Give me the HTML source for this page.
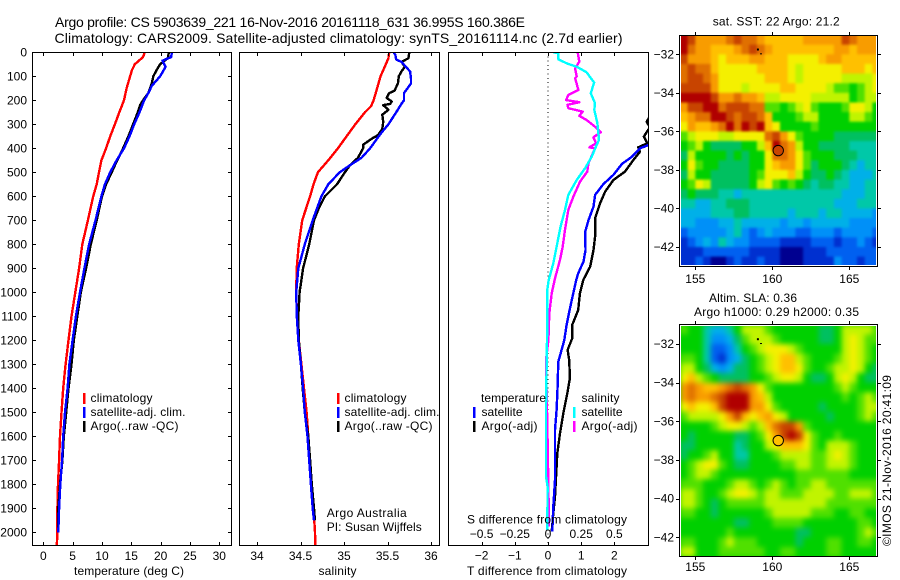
<!DOCTYPE html>
<html>
<head>
<meta charset="utf-8">
<title>Argo profile chart</title>
<style>
html,body{margin:0;padding:0;background:#fff;}
svg{display:block;}
text{font-family:"Liberation Sans",sans-serif;font-size:12px;fill:#000;}
.t14{font-size:14px;}
.frame{fill:none;stroke:#000;stroke-width:1;shape-rendering:crispEdges;}
.crisp{shape-rendering:crispEdges;}
</style>
</head>
<body>
<svg id="chart" xmlns="http://www.w3.org/2000/svg" width="900" height="580" viewBox="0 0 900 580">
  <defs>
    <clipPath id="clip-temp"><rect x="33" y="52" width="198" height="493"/></clipPath>
    <clipPath id="clip-sal"><rect x="240" y="52" width="199" height="493"/></clipPath>
    <clipPath id="clip-diff"><rect x="449" y="52" width="199" height="493"/></clipPath>
    <clipPath id="clip-sst"><rect x="681" y="36" width="195" height="229"/></clipPath>
    <clipPath id="clip-sla"><rect x="681" y="326" width="195" height="230"/></clipPath>
    <filter id="sst-blur" x="-5%" y="-5%" width="110%" height="110%" color-interpolation-filters="sRGB"><feGaussianBlur stdDeviation="1.3"/></filter>
    <filter id="sla-blur" x="-5%" y="-5%" width="110%" height="110%" color-interpolation-filters="sRGB"><feGaussianBlur stdDeviation="2.6"/></filter>
  </defs>
  <rect x="0" y="0" width="900" height="580" fill="#fff"/>

  <text class="t14" x="55" y="27" textLength="470">Argo profile: CS 5903639_221 16-Nov-2016 20161118_631 36.995S 160.386E</text>
  <text class="t14" x="54.5" y="43" textLength="568">Climatology: CARS2009. Satellite-adjusted climatology: synTS_20161114.nc (2.7d earlier)</text>

  <g id="temp-marks" clip-path="url(#clip-temp)"></g>
  <g id="sal-marks" clip-path="url(#clip-sal)"></g>
  <g id="diff-marks" clip-path="url(#clip-diff)"></g>
  <g id="ticks"></g>

  <rect class="frame" x="32.5" y="52.5" width="199" height="493"/>
  <rect class="frame" x="239.5" y="52.5" width="200" height="493"/>
  <rect class="frame" x="448.5" y="52.5" width="200" height="493"/>

  <text x="74" y="575" textLength="110">temperature (deg C)</text>
  <text x="318.5" y="575" textLength="38">salinity</text>
  <text x="467" y="575" textLength="160">T difference from climatology</text>
  <text x="467" y="523.5" textLength="160">S difference from climatology</text>

  <g>
    <rect class="crisp" x="83" y="393" width="2.5" height="11" fill="#f00"/>
    <rect class="crisp" x="83" y="407" width="2.5" height="11" fill="#00f"/>
    <rect class="crisp" x="83" y="421" width="2.5" height="11" fill="#000"/>
    <text x="90.5" y="402" textLength="62">climatology</text>
    <text x="90.5" y="416" textLength="95">satellite-adj. clim.</text>
    <text x="90.5" y="430" textLength="88">Argo(..raw -QC)</text>
  </g>
  <g>
    <rect class="crisp" x="337" y="393" width="2.5" height="11" fill="#f00"/>
    <rect class="crisp" x="337" y="407" width="2.5" height="11" fill="#00f"/>
    <rect class="crisp" x="337" y="421" width="2.5" height="11" fill="#000"/>
    <text x="344.5" y="402" textLength="62">climatology</text>
    <text x="344.5" y="416" textLength="95">satellite-adj. clim.</text>
    <text x="344.5" y="430" textLength="88">Argo(..raw -QC)</text>
    <text x="326.7" y="517" textLength="80">Argo Australia</text>
    <text x="326.7" y="531" textLength="95">PI: Susan Wijffels</text>
  </g>
  <g>
    <text x="481" y="402" textLength="65">temperature</text>
    <text x="481.5" y="416" textLength="41">satellite</text>
    <text x="481.5" y="430" textLength="56">Argo(-adj)</text>
    <text x="581.5" y="402" textLength="38">salinity</text>
    <text x="581.5" y="416" textLength="41">satellite</text>
    <text x="581.5" y="430" textLength="56">Argo(-adj)</text>
    <rect class="crisp" x="473" y="407" width="2.5" height="11" fill="#00f"/>
    <rect class="crisp" x="473" y="421" width="2.5" height="11" fill="#000"/>
    <rect class="crisp" x="573" y="407" width="2.5" height="11" fill="#0ff"/>
    <rect class="crisp" x="573" y="421" width="2.5" height="11" fill="#f0f"/>
  </g>

  <text x="712.7" y="25.5" textLength="127">sat. SST: 22 Argo: 21.2</text>
  <text x="709" y="302" textLength="88">Altim. SLA: 0.36</text>
  <text x="694" y="316" textLength="165">Argo h1000: 0.29 h2000: 0.35</text>
  <text transform="translate(891,546) rotate(-90)" x="0" y="0" textLength="171">©IMOS 21-Nov-2016 20:41:09</text>

  <g clip-path="url(#clip-sst)">
    <g id="sst-map-base"></g>
    <g id="sst-map" filter="url(#sst-blur)"></g>
  </g>
  <g clip-path="url(#clip-sla)">
    <rect x="681" y="326" width="195" height="230" fill="#00d000"/>
    <g id="sla-map" filter="url(#sla-blur)"></g>
  </g>
  <g id="map-overlay"></g>
  <rect class="frame" x="679.5" y="35.5" width="198" height="231"/>
  <rect class="frame" x="679.5" y="324.5" width="198" height="232"/>
</svg>

<script>
// Temperature profiles (deg C) against pressure (dbar)
const tempClimDepth = [0,20,50,75,100,150,200,250,300,350,400,450,500,550,600,700,800,900,1000,1100,1200,1300,1400,1500,1600,1700,1800,1900,2000,2056];
const tempClimValue = [17.3,17.0,15.6,15.1,14.8,14.2,13.75,12.95,12.2,11.4,10.7,9.9,9.5,9.1,8.5,7.6,6.65,6.1,5.45,4.8,4.3,3.8,3.4,3.1,2.85,2.7,2.5,2.4,2.4,2.3];
const tempSatDepth = [0,20,35,60,75,100,140,170,200,250,300,350,400,450,500,550,600,700,800,900,1000,1100,1200,1300,1400,1500,1600,1700,1800,1900,2000];
const tempSatValue = [21.9,21.8,20.3,20.85,20.5,19.9,18.5,17.9,17.2,16.4,15.5,14.7,13.75,12.5,11.4,10.5,9.9,8.9,7.8,7.0,6.25,5.55,5.0,4.45,4.15,3.7,3.4,3.2,2.9,2.7,2.55];
const tempArgoDepth = [0,25,50,75,100,130,170,200,220,250,300,350,400,450,500,550,600,700,800,900,1000,1100,1200,1300,1400,1500,1600,1700,1800,1900,2000];
const tempArgoValue = [21.4,21.2,19.9,19.3,18.75,18.5,17.9,17.0,16.5,16.1,15.3,14.5,13.6,12.6,11.65,10.7,10.0,9.1,8.1,7.3,6.4,5.8,5.2,4.8,4.3,3.9,3.5,3.25,2.85,2.55,2.5];

// Salinity profiles against pressure (dbar)
const salClimDepth = [0,25,50,75,100,150,200,225,250,300,350,400,450,500,550,600,700,800,900,1000,1100,1200,1300,1400,1500,1600,1700,1800,1900,2000,2056];
const salClimValue = [35.52,35.51,35.48,35.45,35.42,35.38,35.34,35.31,35.24,35.13,35.03,34.93,34.82,34.70,34.65,34.61,34.52,34.48,34.456,34.45,34.46,34.48,34.51,34.54,34.57,34.59,34.61,34.63,34.65,34.667,34.67];
const salSatDepth = [0,10,30,40,60,80,110,130,150,170,200,215,250,300,340,400,440,470,500,550,600,700,800,900,1000,1100,1200,1300,1400,1500,1600,1700,1800,1900,1950];
const salSatValue = [35.57,35.59,35.6,35.66,35.71,35.76,35.77,35.77,35.73,35.69,35.69,35.66,35.6,35.51,35.42,35.3,35.2,35.07,34.95,34.82,34.74,34.64,34.55,34.475,34.45,34.457,34.475,34.505,34.53,34.55,34.58,34.6,34.62,34.64,34.655];
const salArgoDepth = [0,25,40,60,80,100,130,160,170,190,205,215,220,240,260,290,320,345,360,385,400,440,470,500,550,600,650,700,800,900,1000,1100,1200,1300,1400,1500,1600,1700,1800,1900,1950];
const salArgoValue = [35.75,35.74,35.66,35.7,35.66,35.63,35.62,35.58,35.52,35.49,35.55,35.53,35.45,35.51,35.44,35.45,35.44,35.39,35.32,35.22,35.22,35.16,35.07,35.01,34.92,34.78,34.71,34.655,34.6,34.53,34.49,34.475,34.48,34.505,34.525,34.55,34.59,34.61,34.63,34.655,34.665];

// Temperature differences from climatology
const dTempSatDepth = [0,300,350,386,400,435,465,511,549,594,643,699,747,824,872,921,949,1011,1074,1136,1199,1240,1289,1393,1490,1574,1782,1893,1997];
const dTempSatValue = [4.6,3.4,3.2,3.04,2.77,2.53,2.23,1.97,1.67,1.42,1.37,1.22,1.12,1.13,1.07,0.91,0.85,0.75,0.65,0.56,0.49,0.41,0.31,0.29,0.26,0.21,0.21,0.16,0.13];
const dTempArgoDepth = [0,200,250,268,289,312,351,379,396,414,449,497,532,581,629,692,768,824,893,949,1004,1074,1136,1192,1240,1282,1358,1421,1504,1588,1671,1726,1851,1921,1997];
const dTempArgoValue = [4.1,3.5,3.2,3.07,2.97,3.07,2.89,2.99,2.72,2.77,2.57,2.32,1.97,1.72,1.57,1.42,1.42,1.37,1.27,1.06,0.96,0.91,0.73,0.73,0.59,0.64,0.66,0.58,0.46,0.36,0.28,0.26,0.21,0.16,0.11];

// Salinity differences from climatology
const dSalSatDepth = [0,4,29,46,60,83,126,171,212,240,296,365,386,435,483,532,594,657,726,810,879,949,990,1115,1282,1476,1768,1810,1990];
const dSalSatValue = [0.04,0.078,0.078,0.14,0.216,0.29,0.347,0.322,0.354,0.349,0.372,0.384,0.367,0.329,0.279,0.216,0.153,0.128,0.095,0.065,0.04,0.005,-0.005,-0.005,-0.01,-0.015,-0.015,-0.003,-0.005];
const dSalArgoDepth = [0,39,67,101,108,157,178,199,208,219,233,247,265,282,310,333,354,379,396,400,463,497,539,601,657,740,810,865,942,1004,1088,1199,1282,1435,1546,1893,1976];
const dSalArgoValue = [0.224,0.236,0.204,0.216,0.204,0.229,0.153,0.136,0.236,0.146,0.153,0.261,0.236,0.291,0.354,0.397,0.342,0.362,0.312,0.354,0.304,0.296,0.241,0.191,0.153,0.128,0.111,0.09,0.053,0.028,0.01,0.003,-0.015,-0.01,-0.005,0.005,0.005];

// Tick values and labels
const depthTicks = [0,100,200,300,400,500,600,700,800,900,1000,1100,1200,1300,1400,1500,1600,1700,1800,1900,2000];
const tempTicks = [0,5,10,15,20,25,30];
const salTicks = [34,34.5,35,35.5,36];
const salTickLabels = ['34','34.5','35','35.5','36'];
const dTempTicks = [-2,-1,0,1,2];
const dTempTickLabels = ['\u22122','\u22121','0','1','2'];
const dSalTicks = [-0.5,-0.25,0,0.25,0.5];
const dSalTickLabels = ['\u22120.5','\u22120.25','0','0.25','0.5'];
const lonTicks = [155,160,165];
const latTicks = [-32,-34,-36,-38,-40,-42];
const argoLon = 160.386;
const argoLat = -36.995;

// Map colour levels
const mapLonStart = 154;
const mapLatStart = -31;
const mapStep = 0.5;
const sstArgoLevel = 13.6;
const slaArgoLevel = 11;
const colorRamp = ['#000090','#0030d0','#0060f0','#0090f8','#00b0e8','#00c8a8','#00c060','#00d000','#50e000','#c0f400','#f4f000','#ffc000','#f89c00','#e07000','#c84400','#b00000'];
const sstLevels = [
[15,14,12,12,12,12,13,14,13,13,12,11,11,11,11,11,12,12,12,12,12,14,13,12,12,12],
[15,13,12,12,11,11,11,12,13,14,13,12,11,11,11,11,11,11,11,11,12,12,11,12,12,12],
[14,12,12,12,11,10,11,11,11,12,12,11,11,11,10,10,10,10,11,12,12,11,11,11,11,11],
[13,14,13,13,11,10,10,10,10,10,11,11,11,11,10,9,10,10,10,10,10,11,11,11,10,11],
[13,14,14,13,12,10,10,10,10,10,10,11,11,11,10,9,10,10,10,10,10,9,9,9,9,10],
[14,14,14,14,12,10,10,10,9,10,10,10,10,11,11,10,10,10,10,9,8,8,7,8,9,10],
[15,15,15,15,14,12,12,13,12,12,11,9,9,10,10,10,10,9,9,9,9,9,7,8,9,9],
[12,14,14,15,15,13,14,14,14,13,13,8,8,7,8,9,10,8,7,7,7,8,10,10,9,7],
[11,12,13,13,15,15,14,13,14,14,13,11,7,7,7,8,9,9,7,7,7,7,9,9,8,7],
[10,12,11,11,12,13,15,13,15,14,15,11,10,7,7,7,7,8,7,7,7,7,7,7,7,7],
[8,9,10,10,10,9,9,10,10,10,10,13,14,12,10,8,7,7,7,7,6,6,6,6,6,6],
[7,8,9,7,6,6,6,6,7,7,9,11,15,13,12,9,7,7,6,6,6,6,5,5,5,5],
[6,9,7,7,7,7,6,7,6,7,7,10,13,13,12,10,8,7,7,7,6,6,6,5,5,5],
[7,10,8,7,7,6,6,6,6,7,7,10,11,12,12,10,8,6,7,7,7,6,5,4,5,5],
[6,9,7,7,6,6,6,6,6,7,8,10,10,10,11,9,7,6,6,7,6,5,4,4,4,5],
[7,8,10,9,6,6,6,6,6,7,9,10,8,7,8,7,6,5,6,6,5,5,4,4,5,5],
[6,7,6,6,6,5,5,4,5,5,5,5,5,5,5,5,5,5,5,5,5,4,4,4,5,5],
[5,5,4,4,5,5,6,6,6,5,5,5,5,5,5,5,5,5,5,5,4,4,4,5,5,5],
[4,4,4,4,5,5,5,6,6,5,5,5,5,5,4,5,5,5,4,5,5,4,4,4,4,3],
[4,4,3,3,3,4,4,5,4,4,4,4,4,3,4,4,3,4,4,4,4,4,3,3,3,3],
[2,3,3,3,3,3,4,5,3,2,3,4,3,3,3,2,2,3,3,3,2,3,3,3,3,2],
[1,2,3,4,3,5,4,3,3,2,2,2,2,1,1,1,1,2,2,2,1,2,2,3,2,1],
[1,1,1,2,2,2,2,2,2,1,1,1,1,0,0,0,1,1,1,2,2,2,2,2,2,2],
[1,1,2,1,0,0,1,2,1,1,2,1,1,0,0,0,1,1,1,1,3,2,2,1,2,2]
];
const slaLevels = [
[8,7,7,5,4,4,5,7,9,9,9,8,7,7,7,7,7,7,6,6,7,9,9,9,9,8],
[7,7,7,5,3,3,4,6,8,9,9,9,8,7,7,7,7,7,6,6,7,9,10,9,8,8],
[7,7,7,5,2,2,3,5,7,8,9,10,10,10,9,8,7,7,7,7,7,9,10,9,8,7],
[8,8,7,5,2,1,3,4,6,7,8,9,10,11,11,9,8,7,7,7,8,9,10,9,8,7],
[9,9,7,6,4,3,4,6,6,7,8,9,10,11,11,10,8,7,7,8,9,9,10,9,7,6],
[10,11,9,8,7,6,6,6,6,7,7,8,9,10,10,9,7,6,6,7,9,10,9,7,6,6],
[12,13,12,11,11,12,13,14,13,12,10,8,7,7,7,7,7,7,7,7,8,9,8,7,7,7],
[12,13,12,12,13,14,15,15,15,12,11,9,7,7,7,7,7,7,7,7,7,8,7,8,9,8],
[10,11,10,10,11,14,15,15,15,12,12,10,8,7,7,7,7,7,6,7,7,7,7,8,9,9],
[8,9,9,9,9,10,12,14,11,10,11,12,10,9,7,7,7,7,7,6,7,7,7,8,9,8],
[7,7,7,7,8,9,10,10,9,8,9,11,13,14,14,12,8,7,7,7,7,7,7,7,7,7],
[7,6,7,7,7,7,7,6,6,7,8,10,12,14,15,14,10,8,7,7,8,7,7,7,7,7],
[6,6,7,7,7,7,7,5,6,7,7,9,10,11,11,11,10,8,7,9,9,9,8,7,7,7],
[6,7,7,8,9,7,7,5,5,7,7,7,8,9,9,9,9,8,8,9,10,9,8,7,7,7],
[7,8,9,10,10,8,7,6,6,7,7,7,7,8,8,9,9,8,8,9,9,9,8,7,7,7],
[7,8,9,9,8,7,7,7,7,7,7,7,7,7,7,8,8,8,8,8,8,8,7,7,7,7],
[8,8,8,7,7,7,8,9,9,8,7,8,9,8,7,8,8,9,9,8,8,8,8,8,8,8],
[9,9,8,7,7,8,9,10,10,9,8,9,9,8,8,8,9,9,9,9,8,8,9,9,9,8],
[9,9,8,7,6,7,8,8,8,8,8,9,9,9,9,9,9,9,9,8,8,8,8,8,8,8],
[8,8,7,7,6,7,7,7,7,7,7,8,9,9,9,9,9,8,8,8,7,7,8,8,7,7],
[7,7,7,7,7,7,7,6,6,7,7,7,8,8,8,8,7,7,7,7,7,7,7,8,8,7],
[7,7,7,7,7,7,8,7,7,7,7,7,7,7,7,6,6,7,7,7,7,7,7,8,9,8],
[8,8,7,7,7,8,9,8,8,8,7,7,7,7,7,6,7,7,7,8,8,7,7,8,8,7],
[9,9,7,7,7,8,8,8,8,8,8,7,7,8,8,7,7,7,7,8,8,7,7,7,7,7]
];

const SVGNS = 'http://www.w3.org/2000/svg';
const depthY = function(d){ return 52.3 + d * 0.24; };
const tempX = function(v){ return 43.3 + v * 5.867; };
const salX = function(v){ return 257 + (v - 34) * 87; };
const dTempX = function(v){ return 548 + v * 33.2; };
const dSalX = function(v){ return 548 + v * 132.8; };
const lonX = function(v){ return 695.3 + (v - 155) * 15.4; };
const sstLatY = function(v){ return 54.3 + (-32 - v) * 19.27; };
const slaLatY = function(v){ return 344 + (-32 - v) * 19.33; };

function make(tag, parent, attrs){
  const el = document.createElementNS(SVGNS, tag);
  for (const k in attrs) el.setAttribute(k, attrs[k]);
  parent.appendChild(el);
  return el;
}

function drawLine(parentId, xFn, depths, values, color, width, name){
  const parent = document.getElementById(parentId);
  const pts = depths.map(function(d, i){ return xFn(values[i]).toFixed(1) + ',' + depthY(d).toFixed(1); }).join(' ');
  const el = make('polyline', parent, {points: pts, fill: 'none', stroke: color, 'stroke-width': width, 'shape-rendering': 'crispEdges', 'stroke-linejoin': 'round'});
  
  
}

drawLine('temp-marks', tempX, tempClimDepth, tempClimValue, '#f00', 2.4, 'temperature-climatology-line');
drawLine('temp-marks', tempX, tempArgoDepth, tempArgoValue, '#000', 2.4, 'temperature-argo-line');
drawLine('temp-marks', tempX, tempSatDepth, tempSatValue, '#00f', 2.4, 'temperature-satellite-line');
drawLine('sal-marks', salX, salClimDepth, salClimValue, '#f00', 2.4, 'salinity-climatology-line');
drawLine('sal-marks', salX, salArgoDepth, salArgoValue, '#000', 2.4, 'salinity-argo-line');
drawLine('sal-marks', salX, salSatDepth, salSatValue, '#00f', 2.4, 'salinity-satellite-line');

const zeroLine = make('line', document.getElementById('diff-marks'), {x1: dTempX(0), x2: dTempX(0), y1: 52, y2: 545, stroke: '#000', 'stroke-width': 1, 'stroke-dasharray': '1 3.3', 'shape-rendering': 'crispEdges'});



drawLine('diff-marks', dTempX, dTempArgoDepth, dTempArgoValue, '#000', 2.4, 'delta-temperature-argo-line');
drawLine('diff-marks', dTempX, dTempSatDepth, dTempSatValue, '#00f', 2.4, 'delta-temperature-satellite-line');
drawLine('diff-marks', dSalX, dSalArgoDepth, dSalArgoValue, '#f0f', 2.4, 'delta-salinity-argo-line');
drawLine('diff-marks', dSalX, dSalSatDepth, dSalSatValue, '#0ff', 2.4, 'delta-salinity-satellite-line');

const tickLayer = document.getElementById('ticks');

function tickMark(x1, y1, x2, y2){
  const el = make('line', tickLayer, {x1: x1, y1: y1, x2: x2, y2: y2, stroke: '#000', 'stroke-width': 1, 'shape-rendering': 'crispEdges'});
  
  
}
function tickLabel(str, x, y, anchor){
  const el = make('text', tickLayer, {x: x, y: y, 'text-anchor': anchor});
  el.textContent = str;
  
  
}

depthTicks.forEach(function(d){
  const y = Math.round(depthY(d)) + 0.5;
  tickMark(33, y, 36, y);
  tickMark(228, y, 231, y);
  tickLabel(String(d), 27, depthY(d) + 4, 'end');
});
tempTicks.forEach(function(v){
  const x = Math.round(tempX(v)) + 0.5;
  tickMark(x, 53, x, 56);
  tickMark(x, 542, x, 545);
  tickLabel(String(v), tempX(v), 560, 'middle');
});
salTicks.forEach(function(v, i){
  const x = Math.round(salX(v)) + 0.5;
  tickMark(x, 53, x, 56);
  tickMark(x, 542, x, 545);
  tickLabel(salTickLabels[i], salX(v), 560, 'middle');
});
dTempTicks.forEach(function(v, i){
  const x = Math.round(dTempX(v)) + 0.5;
  tickMark(x, 53, x, 56);
  tickMark(x, 542, x, 545);
  tickLabel(dTempTickLabels[i], dTempX(v), 559.5, 'middle');
});
dSalTicks.forEach(function(v, i){
  tickLabel(dSalTickLabels[i], dSalX(v), 538, 'middle');
});

function mapAxes(latY, top, bottom, labelY){
  lonTicks.forEach(function(v){
    const x = Math.round(lonX(v)) + 0.5;
    tickMark(x, top - 3, x, top);
    tickMark(x, bottom, x, bottom + 3);
    tickLabel(String(v), lonX(v), labelY, 'middle');
  });
  latTicks.forEach(function(v){
    const y = Math.round(latY(v)) + 0.5;
    tickMark(676, y, 679, y);
    tickMark(878, y, 881, y);
    tickLabel('\u2212' + Math.abs(v), 674, latY(v) + 4, 'end');
  });
}
mapAxes(sstLatY, 35, 267, 283);
mapAxes(slaLatY, 324, 557, 571);

function drawMap(parentId, levels, latY, name){
  const parent = document.getElementById(parentId);
  levels.forEach(function(row, r){
    row.forEach(function(level, c){
      const x0 = lonX(mapLonStart + c * mapStep);
      const x1 = lonX(mapLonStart + (c + 1) * mapStep);
      const y0 = latY(mapLatStart - r * mapStep);
      const y1 = latY(mapLatStart - (r + 1) * mapStep);
      const cell = make('rect', parent, {x: x0.toFixed(2), y: y0.toFixed(2), width: (x1 - x0 + 0.4).toFixed(2), height: (y1 - y0 + 0.4).toFixed(2), fill: colorRamp[Math.round(level)]});
      
      
    });
  });
}
drawMap('sst-map-base', sstLevels, sstLatY, 'sst-base-cell');
drawMap('sst-map', sstLevels, sstLatY, 'sst-cell');
drawMap('sla-map', slaLevels, slaLatY, 'sla-cell');

const overlay = document.getElementById('map-overlay');

const sstCircle = make('circle', overlay, {cx: lonX(argoLon), cy: sstLatY(argoLat), r: 5.2, fill: colorRamp[Math.round(sstArgoLevel)], stroke: '#000', 'stroke-width': 1});



const slaCircle = make('circle', overlay, {cx: lonX(argoLon), cy: slaLatY(argoLat), r: 5.2, fill: colorRamp[slaArgoLevel], stroke: '#000', 'stroke-width': 1});



[sstLatY, slaLatY].forEach(function(latY){
  const dotA = make('rect', overlay, {x: lonX(159.0), y: latY(-31.7), width: 2, height: 2, fill: '#000'});
  
  
  const dotB = make('rect', overlay, {x: lonX(159.2), y: latY(-31.95), width: 2, height: 1, fill: '#000'});
  
  
});
</script>
</body>
</html>
